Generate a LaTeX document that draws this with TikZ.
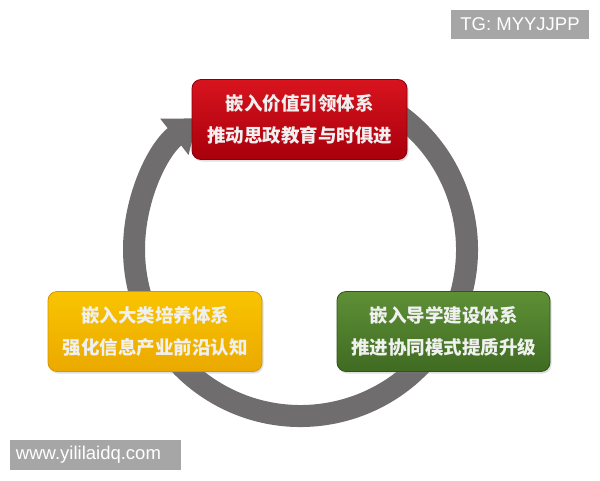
\documentclass[tikz,border=0pt]{standalone}
\usepackage{fontspec}
\setmainfont{Liberation Sans}
\newfontfamily\cjk{Noto Sans CJK SC}
\usetikzlibrary{arrows.meta,shadows}
\definecolor{ringgray}{HTML}{6F6D6E}
\definecolor{redtop}{HTML}{D8141E}
\definecolor{redbot}{HTML}{A8000C}
\definecolor{redline}{HTML}{8A0008}
\definecolor{yeltop}{HTML}{F9C400}
\definecolor{yelbot}{HTML}{EBA900}
\definecolor{yelline}{HTML}{D69600}
\definecolor{grntop}{HTML}{5E9036}
\definecolor{grnbot}{HTML}{3F6B22}
\definecolor{grnline}{HTML}{2F5618}
\definecolor{markgray}{HTML}{A6A6A6}
\begin{document}
\begin{tikzpicture}[x=1pt,y=1pt,
        ring/.style={line width=22pt,ringgray,-{Triangle[width=44pt,length=30pt]}},
        stagebox/.style={rounded corners=9pt,draw,line width=0.8pt,inner sep=0pt,
            minimum height=80pt,align=center,text=white!94!black,
            font=\cjk\bfseries\fontsize{18.5}{32}\selectfont,
            drop shadow={opacity=0.25,shadow xshift=1.5pt,shadow yshift=-2pt}},
        markbox/.style={fill=markgray,text=white,inner sep=0pt,
            font=\fontsize{18.5}{20}\selectfont}]
    \useasboundingbox[fill=white] (0,0) rectangle (600,-480);
    \draw[ring] (300.5,-249.5) ++(60:166.5) arc[start angle=60,end angle=-232,radius=166.5];
    \node[stagebox,minimum width=215pt,top color=redtop,bottom color=redbot,draw=redline] (value) at (299.5,-119.5)
        {嵌入价值引领体系\\推动思政教育与时俱进};
    \node[stagebox,minimum width=214pt,top color=yeltop,bottom color=yelbot,draw=yelline] (major) at (155,-331.5)
        {嵌入大类培养体系\\强化信息产业前沿认知};
    \node[stagebox,minimum width=213pt,top color=grntop,bottom color=grnbot,draw=grnline] (tutor) at (443.5,-331.5)
        {嵌入导学建设体系\\推进协同模式提质升级};
    \node[markbox,minimum width=138pt,minimum height=29pt] (tg) at (520,-24.5) {TG: MYYJJPP};
    \node[markbox,minimum height=30pt,text width=159pt,inner xsep=6pt,align=left] (site) at (95.5,-455) {www.yililaidq.com};
\end{tikzpicture}
\end{document}
